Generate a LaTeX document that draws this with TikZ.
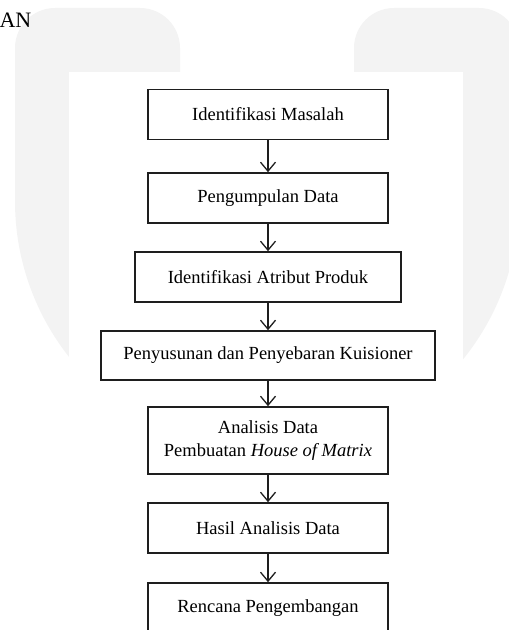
\documentclass[tikz,border=0pt]{standalone}
\usepackage{fontspec}
\setmainfont{Liberation Serif}
\usepackage{xcolor}
\usepackage{tikz}
\usetikzlibrary{arrows.meta}

\definecolor{wmark}{RGB}{243,243,243}
\definecolor{ink}{RGB}{30,30,30}

\begin{document}
\begin{tikzpicture}
      [ x=1pt, y=1pt
      , box/.style={draw=ink, line width=1.6pt, minimum height=50pt, inner sep=0pt, align=center, font=\fontsize{18.5}{23}\selectfont}
      , flow/.style={ink, line width=1.4pt, -{Straight Barb[length=9pt, width=15pt, line width=1.3pt]}}
      ]
    \useasboundingbox (0,0) rectangle (509,630);
    \clip (0,0) rectangle (509,630);

    % watermark behind the chart
    \fill[wmark] (15,429) [rounded corners=40pt] -- (15,622) -- (180,622) -- (180,520)
      [sharp corners] -- (354,520) [rounded corners=40pt] -- (354,622) -- (519,622)
      [sharp corners] -- (519,429) arc[start angle=0, end angle=-180, radius=252pt] -- cycle;
    \fill[white] (69,0) rectangle (463,558);

    \node[anchor=base west, font=\fontsize{22}{24}\selectfont] (HD) at (-4,602) {AN};

    \node[box, minimum width=240pt] (IM) at (268,515.5) {Identifikasi Masalah};
    \node[box, minimum width=240pt] (PD) at (268,432) {Pengumpulan Data};
    \node[box, minimum width=266pt] (IA) at (268,353) {Identifikasi Atribut Produk};
    \node[box, minimum width=334pt, minimum height=49pt] (PK) at (268,274.5) {Penyusunan dan Penyebaran Kuisioner};
    \node[box, minimum width=240pt, minimum height=67pt] (AD) at (268,189.5) {Analisis Data\\Pembuatan \textit{House of Matrix}};
    \node[box, minimum width=240pt] (HA) at (268,102) {Hasil Analisis Data};
    \node[box, minimum width=240pt] (RP) at (268,22) {Rencana Pengembangan};

    \draw[flow]
    (IM) edge (PD)
    (PD) edge (IA)
    (IA) edge (PK)
    (PK) edge (AD)
    (AD) edge (HA)
    (HA) edge (RP);
    \end{tikzpicture}
\end{document}
